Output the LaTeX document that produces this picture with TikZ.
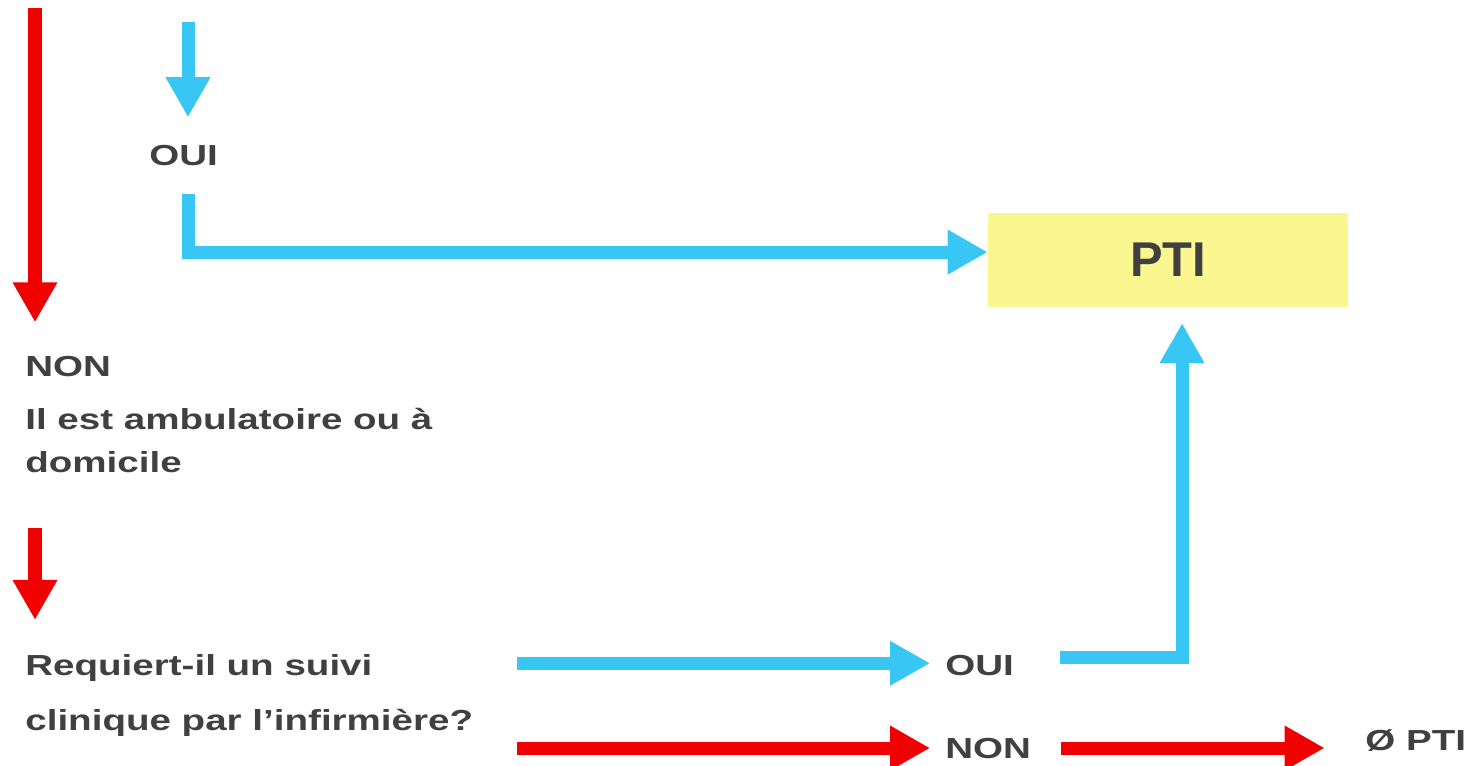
\documentclass[tikz,border=0pt]{standalone}
\usepackage{fontspec}
\usepackage{graphicx}
\setmainfont{Liberation Sans}
\usetikzlibrary{arrows.meta}
\definecolor{skyb}{RGB}{56,198,245}
\definecolor{redc}{RGB}{240,0,0}
\definecolor{txt}{RGB}{64,64,64}
\definecolor{ptiy}{RGB}{250,247,145}
\newcommand{\wtxt}[1]{\scalebox{1.33}[1]{#1}}
\begin{document}
\begin{tikzpicture}[x=0.02cm,y=-0.02cm,
  lbl/.style={font=\fontsize{16.5}{24.5}\selectfont\bfseries, text=txt, inner sep=0pt, anchor=base west},
  lblm/.style={font=\fontsize{16.5}{24.5}\selectfont\bfseries, text=txt, inner sep=0pt, align=left, anchor=north west},
  lblr/.style={font=\fontsize{16.5}{31.3}\selectfont\bfseries, text=txt, inner sep=0pt, align=left, anchor=north west},
  ptibox/.style={fill=ptiy, minimum width=204.9pt, minimum height=53.5pt, inner sep=0pt,
    font=\fontsize{27.8}{30}\selectfont\bfseries, text=txt},
  arr/.style={line width=7.4pt, -{Triangle[length=22.8pt,width=23.9pt]}},
  bluarr/.style={arr, draw=skyb, color=skyb},
  redarr/.style={arr, draw=redc, color=redc}]
\useasboundingbox (0,0) rectangle (1471,766);
\coordinate (ctr) at (35,8);
\coordinate (ctb) at (188,22);
\node[lbl] (oui1) at (149,166) {\wtxt{OUI}};
\node[lbl] (non1) at (25,377) {\wtxt{NON}};
\node[lblm] (amb) at (25,408) {\wtxt{Il est ambulatoire ou à}\\\wtxt{domicile}};
\node[lblr] (req) at (25,654) {\wtxt{Requiert-il un suivi}\\\wtxt{clinique par l’infirmière?}};
\node[lbl] (oui2) at (945,675) {\wtxt{OUI}};
\node[lbl] (non2) at (945,758) {\wtxt{NON}};
\node[lbl] (nopti) at (1365,750) {\wtxt{Ø PTI}};
\node[ptibox] (pti) at (1168,260) {PTI};
\draw[redarr, shorten >=19.4pt] (ctr) -- (ctr |- non1.north);
\draw[bluarr, shorten >=16pt] (ctb) -- (ctb |- oui1.north);
\draw[bluarr, shorten <=15.4pt] (oui1.south -| ctb) |- ([yshift=4.5pt]pti.west);
\draw[redarr, shorten <=31.3pt, shorten >=19.4pt] (amb.south -| ctr) -- (req.north -| ctr);
\draw[bluarr, shorten <=25pt, shorten >=8.5pt] ([yshift=1pt]req.east |- oui2.west) -- ([yshift=1pt]oui2.west);
\draw[redarr, shorten <=25pt, shorten >=8.5pt] (req.east |- non2.west) -- (non2.west);
\draw[bluarr, shorten <=26pt, shorten >=9pt] ([yshift=4.3pt]oui2.east) -| ([xshift=8pt]pti.south);
\draw[redarr, shorten <=17pt, shorten >=23pt] (non2.east) -- (non2.east -| nopti.west);
\end{tikzpicture}
\end{document}
